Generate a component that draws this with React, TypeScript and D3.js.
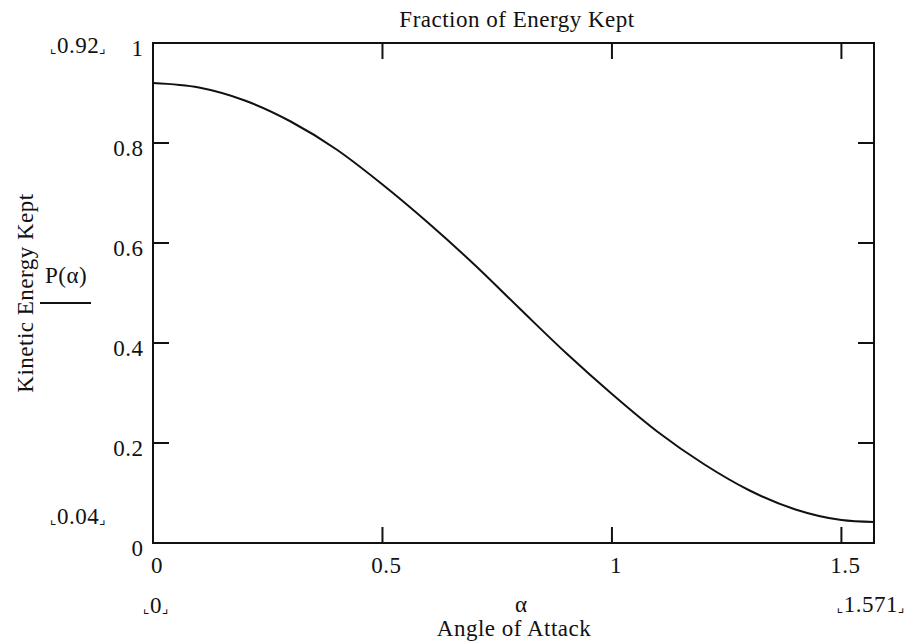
import React from "react";
import * as d3 from "d3";

// angle of attack (rad) and fraction of kinetic energy kept
const alphaValues = [0, 0.1, 0.2, 0.3, 0.4, 0.5, 0.6, 0.7, 0.8, 0.9, 1.0, 1.1, 1.2, 1.3, 1.4, 1.5, 1.571];
const pValues = [0.92, 0.911, 0.885, 0.843, 0.787, 0.717, 0.64, 0.557, 0.468, 0.38, 0.298, 0.222, 0.158, 0.105, 0.067, 0.046, 0.042];

const xTicks = [0, 0.5, 1, 1.5];
const yTicks = [0, 0.2, 0.4, 0.6, 0.8, 1];
const xLimits = ["0", "1.571"];
const yLimits = ["0.92", "0.04"];

const titleText = "Fraction of Energy Kept";
const xLabelText = "Angle of Attack";
const yLabelText = "Kinetic Energy Kept";

const W = 909;
const H = 642;
const margin = { top: 43, right: 35, bottom: 99, left: 153 };
const innerW = W - margin.left - margin.right;
const innerH = H - margin.top - margin.bottom;

const FONT = "'Liberation Serif', 'Times New Roman', serif";
const INK = "#111";
const TICK = 16;
const FS = 23;
const LS = 0.5;

function Corners(props: { x: number; y: number; text: string; anchor?: string }) {
  return (
    <text
      x={props.x}
      y={props.y}
      textAnchor={props.anchor || "start"}
      fontFamily={FONT}
      fontSize={FS}
      letterSpacing={LS}
      fill={INK}
    >
      <tspan fontFamily="'DejaVu Sans', sans-serif" fontSize={14}>⌞</tspan>
      {props.text}
      <tspan fontFamily="'DejaVu Sans', sans-serif" fontSize={14}>⌟</tspan>
    </text>
  );
}

export default function App() {
  const x = d3.scaleLinear().domain([0, 1.571]).range([0, innerW]);
  const y = d3.scaleLinear().domain([0, 1]).range([innerH, 0]);

  const data = alphaValues.map((a, i) => ({ a, p: pValues[i] }));
  const line = d3
    .line<{ a: number; p: number }>()
    .x((d) => x(d.a))
    .y((d) => y(d.p))
    .curve(d3.curveMonotoneX);

  const fmt = (v: number) => (v === 0 || v === 1 ? String(v) : String(+v.toFixed(1)));

  return (
    <svg
      width={W}
      height={H}
      style={{ position: "absolute", left: 0, top: 0, background: "#fff" }}
    >
      <text
        x={517}
        y={27}
        textAnchor="middle"
        fontFamily={FONT}
        fontSize={FS}
        letterSpacing={LS}
        fill={INK}
      >
        {titleText}
      </text>

      <g transform={`translate(${margin.left},${margin.top})`}>
        {/* ticks on all four sides, pointing inward */}
        {xTicks.map((t) => (
          <g key={"xt" + t}>
            <line x1={x(t)} x2={x(t)} y1={innerH} y2={innerH - TICK} stroke={INK} strokeWidth={2} />
            <line x1={x(t)} x2={x(t)} y1={0} y2={TICK} stroke={INK} strokeWidth={2} />
            <text
              x={x(t) + 4}
              y={innerH + 30}
              textAnchor="middle"
              fontFamily={FONT}
              fontSize={FS}
              letterSpacing={LS}
              fill={INK}
            >
              {fmt(t)}
            </text>
          </g>
        ))}
        {yTicks.map((t) => (
          <g key={"yt" + t}>
            <line x1={0} x2={TICK} y1={y(t)} y2={y(t)} stroke={INK} strokeWidth={2} />
            <line x1={innerW} x2={innerW - TICK} y1={y(t)} y2={y(t)} stroke={INK} strokeWidth={2} />
            <text
              x={-9.5}
              y={y(t) + 13}
              textAnchor="end"
              fontFamily={FONT}
              fontSize={FS}
              letterSpacing={LS}
              fill={INK}
            >
              {fmt(t)}
            </text>
          </g>
        ))}

        <rect x={0} y={0} width={innerW} height={innerH} fill="none" stroke={INK} strokeWidth={2} />

        <path d={line(data) || ""} fill="none" stroke={INK} strokeWidth={2} />
      </g>

      {/* limit labels */}
      <Corners x={50} y={53} text={yLimits[0]} />
      <Corners x={50} y={524} text={yLimits[1]} />
      <Corners x={143} y={613} text={xLimits[0]} />
      <Corners x={905} y={612} text={xLimits[1]} anchor="end" />

      {/* y axis label */}
      <text
        transform="translate(33,293) rotate(-90)"
        textAnchor="middle"
        fontFamily={FONT}
        fontSize={FS}
        letterSpacing={LS}
        fill={INK}
      >
        {yLabelText}
      </text>
      <text x={45} y={283} fontFamily={FONT} fontSize={FS} letterSpacing={LS} fill={INK}>
        P(α)
      </text>
      <line x1={40} x2={91} y1={303} y2={303} stroke={INK} strokeWidth={2} />

      {/* x axis label */}
      <text x={521} y={612} textAnchor="middle" fontFamily={FONT} fontSize={FS} fill={INK}>
        α
      </text>
      <text
        x={514}
        y={636}
        textAnchor="middle"
        fontFamily={FONT}
        fontSize={FS}
        letterSpacing={LS}
        fill={INK}
      >
        {xLabelText}
      </text>
    </svg>
  );
}
